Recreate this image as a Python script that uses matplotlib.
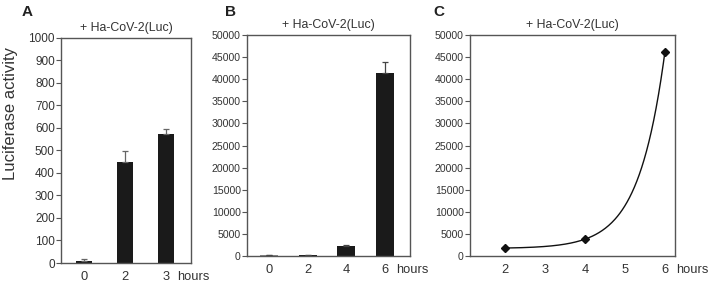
import numpy as np
import matplotlib
matplotlib.use("Agg")
import matplotlib.pyplot as plt

plt.rcParams['font.family'] = ['Liberation Sans', 'DejaVu Sans']

### data
title = "+ Ha-CoV-2(Luc)"

# panel A
a_labels = ["0", "2", "3"]
a_vals = [10, 447, 572]
a_err = [8, 48, 21]

# panel B
b_labels = ["0", "2", "4", "6"]
b_vals = [150, 120, 2300, 41400]
b_err = [0, 150, 120, 2400]

# panel C
c_hours = [2, 4, 6]
c_vals = [1800, 3800, 46200]

bar_col = '#1a1a1a'
spine_col = '#555555'
txt_col = '#333333'

fig = plt.figure(figsize=(7.08, 2.87), dpi=100)
axA = fig.add_axes([0.0862, 0.0836, 0.1836, 0.7857])
axB = fig.add_axes([0.3489, 0.108, 0.2302, 0.770])
axC = fig.add_axes([0.6638, 0.108, 0.2895, 0.770])


def style(ax, ysize):
    for s in ax.spines.values():
        s.set_color(spine_col)
        s.set_linewidth(1.0)
    ax.tick_params(axis='y', length=3.5, width=0.8, color=spine_col, pad=1,
                   labelsize=ysize, labelcolor=txt_col, direction='out')
    ax.tick_params(axis='x', length=0, pad=6, labelsize=9.3, labelcolor=txt_col)
    ax.set_title(title, fontsize=8.9, color=txt_col, pad=5)


def hours(ax, xlast):
    ax.annotate("hours", xy=(xlast, 0), xycoords=('data', 'axes fraction'),
                xytext=(8, -6), textcoords='offset points', ha='left', va='top',
                fontsize=9.3, color=txt_col)


#------------------------------------------------
# A
#------------------------------------------------
xa = np.arange(len(a_vals))
axA.bar(xa, a_vals, width=0.40, color=bar_col,
        yerr=[np.zeros(len(a_err)), a_err],
        error_kw=dict(ecolor='#666666', elinewidth=0.9, capsize=2.5, capthick=0.9))
axA.set_xlim(-0.56, 2.61)
axA.set_ylim(0, 1000)
axA.set_yticks(np.arange(0, 1001, 100))
axA.set_xticks(xa)
axA.set_xticklabels(a_labels)
style(axA, 8.5)
hours(axA, xa[-1])
axA.set_ylabel("Luciferase activity", fontsize=12, color=txt_col)
axA.yaxis.set_label_coords(-0.33, 0.665)

#------------------------------------------------
# B
#------------------------------------------------
xb = np.arange(len(b_vals))
axB.bar(xb, b_vals, width=0.47, color=['#888888', bar_col, bar_col, bar_col],
        yerr=[np.zeros(len(b_err)), b_err],
        error_kw=dict(ecolor='#444444', elinewidth=0.9, capsize=2.5, capthick=0.9))
axB.set_xlim(-0.58, 3.66)
axB.set_ylim(0, 50000)
axB.set_yticks(np.arange(0, 50001, 5000))
axB.set_xticks(xb)
axB.set_xticklabels(b_labels)
style(axB, 7.6)
hours(axB, xb[-1])

#------------------------------------------------
# C  - smooth trend through the three points (offset + exponential)
#------------------------------------------------
d1 = c_vals[1] - c_vals[0]
d2 = c_vals[2] - c_vals[1]
step = c_hours[1] - c_hours[0]
k = np.log(d2 / d1) / step
amp = d1 / (np.exp(k * c_hours[1]) - np.exp(k * c_hours[0]))
off = c_vals[0] - amp * np.exp(k * c_hours[0])
tx = np.linspace(c_hours[0], c_hours[-1], 200)
axC.plot(tx, off + amp * np.exp(k * tx), color='#111111', lw=1.0)
axC.plot(c_hours, c_vals, linestyle='none', marker='D', ms=4.5, color='#111111')
axC.set_xlim(1.13, 6.25)
axC.set_ylim(0, 50000)
axC.set_yticks(np.arange(0, 50001, 5000))
axC.set_xticks([2, 3, 4, 5, 6])
style(axC, 7.6)
hours(axC, 6)

# panel letters
fig.text(0.031, 0.982, "A", fontsize=11, fontweight='bold', va='top', color='#222222')
fig.text(0.318, 0.982, "B", fontsize=11, fontweight='bold', va='top', color='#222222')
fig.text(0.612, 0.982, "C", fontsize=11, fontweight='bold', va='top', color='#222222')

plt.savefig("out.png", dpi=100)
